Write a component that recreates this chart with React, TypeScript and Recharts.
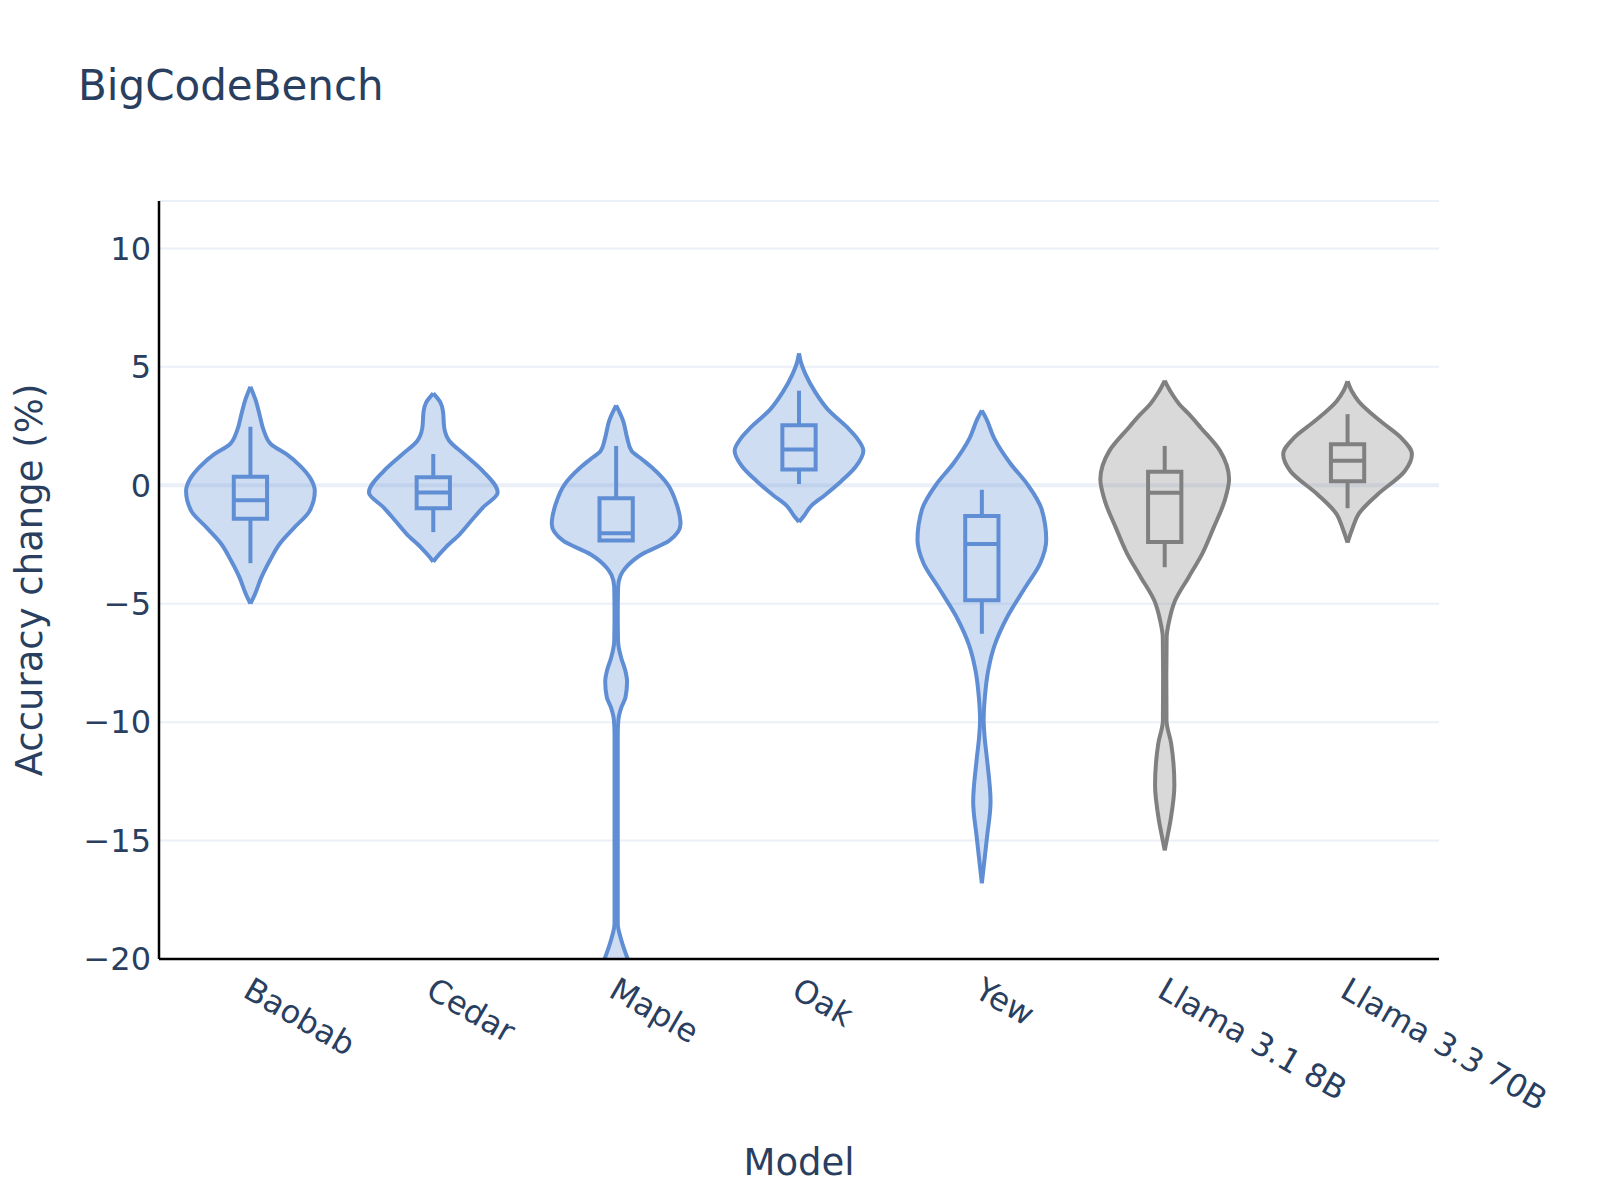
import React from "react";
import {
  Area,
  CartesianGrid,
  ComposedChart,
  Scatter,
  XAxis,
  YAxis,
} from "recharts";

const MODELS = ["Baobab", "Cedar", "Maple", "Oak", "Yew", "Llama 3.1 8B", "Llama 3.3 70B"];
const MODEL_TICKS = [0, 1, 2, 3, 4, 5, 6];
const Y_TICKS = [-20, -15, -10, -5, 0, 5, 10];

// Box-plot stats (accuracy change, %).
const Q1 = [-1.41, -0.97, -2.33, 0.66, -4.85, -2.4, 0.17];
const MEDIAN = [-0.63, -0.31, -2.03, 1.51, -2.48, -0.32, 1.03];
const Q3 = [0.36, 0.34, -0.55, 2.53, -1.3, 0.57, 1.73];
const UPPER = [2.47, 1.32, 1.66, 3.99, -0.19, 1.66, 3.0];
const LOWER = [-3.29, -1.98, -2.33, 0.05, -6.27, -3.46, -0.97];

// Violin outlines: [accuracy change, relative half-width], top to bottom.
const BAOBAB: [number, number][] = [
  [4.16, 0], [3.6, 0.08], [3.0, 0.14], [2.29, 0.21], [1.73, 0.32], [1.31, 0.56],
  [0.8, 0.78], [0.3, 0.93], [-0.24, 1.0], [-1.08, 0.92], [-1.79, 0.68], [-2.49, 0.45],
  [-3.19, 0.3], [-3.89, 0.17], [-4.6, 0.07], [-5.0, 0],
];
const CEDAR: [number, number][] = [
  [3.88, 0], [3.5, 0.11], [3.13, 0.15], [2.43, 0.17], [1.87, 0.25], [1.31, 0.48],
  [0.6, 0.77], [-0.31, 1.0], [-0.94, 0.77], [-1.5, 0.59], [-2.07, 0.41], [-2.63, 0.19],
  [-3.05, 0.05], [-3.23, 0],
];
const MAPLE: [number, number][] = [
  [3.37, 0], [2.71, 0.11], [2.01, 0.17], [1.45, 0.24], [1.1, 0.4], [0.74, 0.56],
  [0.04, 0.8], [-0.8, 0.94], [-1.64, 1.0], [-2.35, 0.82], [-2.91, 0.4], [-3.47, 0.15],
  [-3.8, 0.07], [-4.3, 0.03], [-5.5, 0.025], [-6.6, 0.03], [-7.3, 0.08], [-7.8, 0.14],
  [-8.3, 0.17], [-8.95, 0.145], [-9.35, 0.085], [-9.9, 0.035], [-10.5, 0.025],
  [-14.0, 0.025], [-18.5, 0.025], [-19.2, 0.08], [-20.0, 0.18],
];
const OAK: [number, number][] = [
  [5.57, 0], [5.1, 0.04], [4.69, 0.1], [3.94, 0.25], [3.19, 0.45], [2.44, 0.75],
  [1.99, 0.9], [1.46, 1.0], [0.78, 0.88], [0.18, 0.66], [-0.42, 0.4], [-0.87, 0.19],
  [-1.32, 0.07], [-1.55, 0],
];
const YEW: [number, number][] = [
  [3.16, 0], [2.8, 0.07], [1.99, 0.19], [0.93, 0.44], [0.03, 0.71], [-1.02, 0.93],
  [-2.3, 1.0], [-3.27, 0.91], [-4.33, 0.67], [-5.53, 0.4], [-6.74, 0.2], [-7.8, 0.1],
  [-9.0, 0.045], [-9.9, 0.028], [-10.7, 0.045], [-11.56, 0.08], [-13.36, 0.135],
  [-14.86, 0.08], [-16.07, 0.03], [-16.8, 0],
];
const LLAMA_31: [number, number][] = [
  [4.42, 0], [4.15, 0.05], [3.83, 0.12], [3.41, 0.23], [2.99, 0.38], [2.43, 0.56],
  [1.45, 0.86], [0.25, 1.0], [-0.66, 0.93], [-1.79, 0.76], [-2.91, 0.58], [-3.89, 0.37],
  [-4.88, 0.16], [-5.72, 0.07], [-6.42, 0.03], [-8.0, 0.025], [-9.93, 0.028],
  [-10.9, 0.1], [-12.67, 0.15], [-14.15, 0.09], [-15.0, 0.03], [-15.41, 0],
];
const LLAMA_33: [number, number][] = [
  [4.39, 0], [4.0, 0.06], [3.55, 0.17], [2.71, 0.51], [2.01, 0.83], [1.31, 1.0],
  [0.6, 0.89], [-0.38, 0.47], [-1.22, 0.17], [-1.79, 0.08], [-2.42, 0],
];
const PROFILES = [BAOBAB, CEDAR, MAPLE, OAK, YEW, LLAMA_31, LLAMA_33];

const BLUE = "#608ed4";
const GRAY = "#808080";
const TEXT = "#2a3f5f";
const GRID = "#ebf0f8";
const FONT = "'DejaVu Sans', Verdana, sans-serif";
const VIOLIN_HALF = 0.352;
const BOX_HALF = 0.091;
const LINE_W = 4;

const colorOf = (i: number) => (MODELS[i].startsWith("Llama") ? GRAY : BLUE);

const violinData = PROFILES.map((profile, i) =>
  profile.map(([y, w]) => ({ y, range: [i - VIOLIN_HALF * w, i + VIOLIN_HALF * w] })),
);

const boxData = MODELS.map((_, i) => [
  { x: i - BOX_HALF, y: Q3[i] },
  { x: i + BOX_HALF, y: Q3[i] },
  { x: i + BOX_HALF, y: Q1[i] },
  { x: i - BOX_HALF, y: Q1[i] },
  { x: i - BOX_HALF, y: Q3[i] },
]);
const medianData = MODELS.map((_, i) => [
  { x: i - BOX_HALF, y: MEDIAN[i] },
  { x: i + BOX_HALF, y: MEDIAN[i] },
]);
const upperWhisker = MODELS.map((_, i) => [
  { x: i, y: UPPER[i] },
  { x: i, y: Q3[i] },
]);
const lowerWhisker = MODELS.map((_, i) => [
  { x: i, y: Q1[i] },
  { x: i, y: LOWER[i] },
]);

const noDot = () => <g />;

function ModelTick(props: any) {
  const { x, y, payload } = props;
  const tx = x - 9;
  const ty = y + 29;
  return (
    <text
      x={tx}
      y={ty}
      transform={`rotate(30, ${tx}, ${ty})`}
      textAnchor="start"
      fill={TEXT}
      fontSize={32}
      fontFamily={FONT}
    >
      {MODELS[payload.value]}
    </text>
  );
}

const fmtY = (v: number) => (v < 0 ? `\u2212${-v}` : String(v));

export default function App() {
  return (
    <div
      style={{
        position: "absolute",
        left: 0,
        top: 0,
        width: 1600,
        height: 1200,
        background: "#fff",
        fontFamily: FONT,
      }}
    >
      <ComposedChart
        width={1600}
        height={1200}
        layout="vertical"
        margin={{ top: 201, right: 161, bottom: 81, left: 39 }}
      >
        <CartesianGrid vertical={false} stroke={GRID} strokeWidth={2} />
        {/* zero line, a bit heavier than the rest of the grid */}
        <CartesianGrid vertical={false} horizontalValues={[0]} stroke={GRID} strokeWidth={4} />
        <XAxis
          type="number"
          dataKey="x"
          domain={[-0.5, 6.5]}
          ticks={MODEL_TICKS}
          interval={0}
          allowDataOverflow
          height={160}
          tickLine={false}
          axisLine={{ stroke: "#000", strokeWidth: 2.5 }}
          tick={<ModelTick />}
        />
        <YAxis
          type="number"
          dataKey="y"
          domain={[-20, 12]}
          ticks={Y_TICKS}
          interval={0}
          reversed
          allowDataOverflow
          width={120}
          tickLine={false}
          axisLine={{ stroke: "#000", strokeWidth: 2.5 }}
          tick={{ fill: TEXT, fontSize: 32, fontFamily: FONT }}
          tickFormatter={fmtY}
        />
        {violinData.map((d, i) => (
          <Area
            key={`v-${i}`}
            data={d}
            dataKey="range"
            type="monotoneY"
            stroke={colorOf(i)}
            strokeWidth={LINE_W}
            fill={colorOf(i)}
            fillOpacity={0.3}
            dot={false}
            activeDot={false}
            isAnimationActive={false}
          />
        ))}
        {MODELS.map((_, i) => (
          <Scatter
            key={`b-${i}`}
            data={boxData[i]}
            fill="none"
            shape={noDot}
            line={{ stroke: colorOf(i), strokeWidth: LINE_W, strokeLinecap: "square" }}
            isAnimationActive={false}
          />
        ))}
        {MODELS.map((_, i) => (
          <Scatter
            key={`m-${i}`}
            data={medianData[i]}
            fill="none"
            shape={noDot}
            line={{ stroke: colorOf(i), strokeWidth: LINE_W }}
            isAnimationActive={false}
          />
        ))}
        {MODELS.map((_, i) => (
          <Scatter
            key={`wu-${i}`}
            data={upperWhisker[i]}
            fill="none"
            shape={noDot}
            line={{ stroke: colorOf(i), strokeWidth: LINE_W }}
            isAnimationActive={false}
          />
        ))}
        {MODELS.map((_, i) => (
          <Scatter
            key={`wl-${i}`}
            data={lowerWhisker[i]}
            fill="none"
            shape={noDot}
            line={{ stroke: colorOf(i), strokeWidth: LINE_W }}
            isAnimationActive={false}
          />
        ))}
      </ComposedChart>
      <svg
        width={1600}
        height={1200}
        style={{ position: "absolute", left: 0, top: 0, pointerEvents: "none" }}
      >
        <text x={78} y={100} fill={TEXT} fontSize={42} fontFamily={FONT}>
          BigCodeBench
        </text>
        <text x={799} y={1175} fill={TEXT} fontSize={37} fontFamily={FONT} textAnchor="middle">
          Model
        </text>
        <text
          x={42}
          y={580}
          fill={TEXT}
          fontSize={37}
          fontFamily={FONT}
          textAnchor="middle"
          transform="rotate(-90, 42, 580)"
        >
          Accuracy change (%)
        </text>
      </svg>
    </div>
  );
}
